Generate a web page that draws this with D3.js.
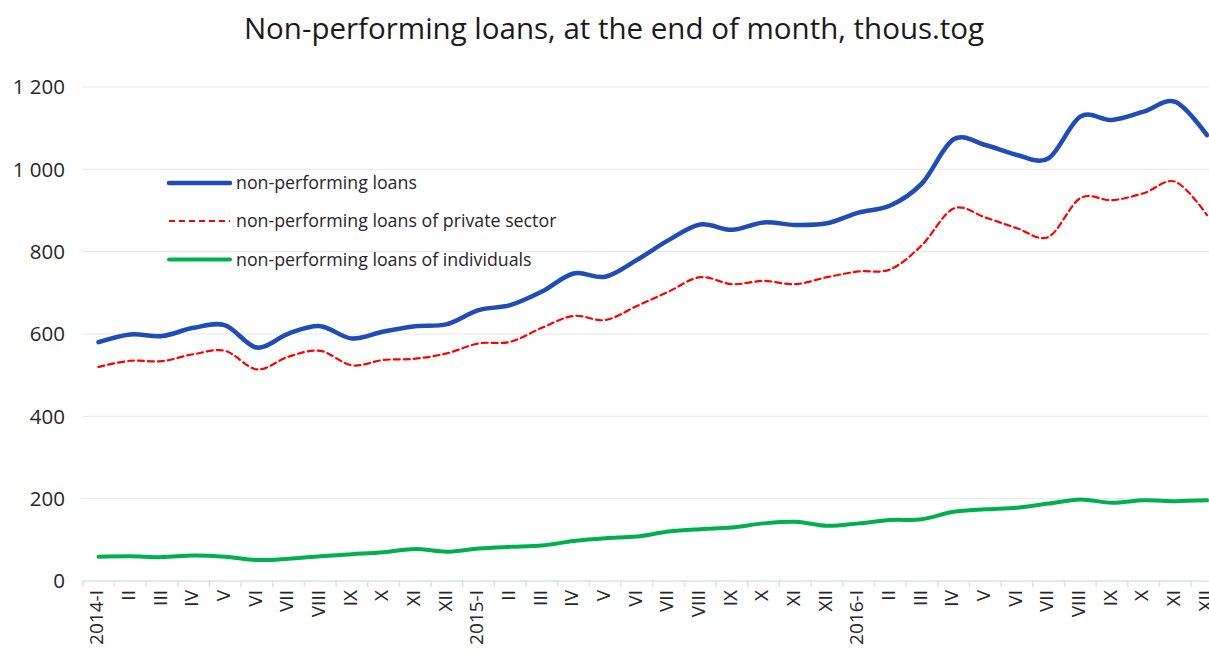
<html>
<head>
    <title>Non-performing loans</title>
    <meta charset="UTF-8" />
    <script src="https://d3js.org/d3.v7.min.js"></script>

    <style>
        body {
            margin: 0;
            background-color: white;
        }

        text {
            font-family: 'Open Sans', 'Noto Sans', sans-serif;
            fill: #262626;
        }
    </style>
</head>

<body>
    <svg id='chart' height='655' width='1209'></svg>

    <script>

        // month labels along the x axis
        const months = ['2014-I', 'II', 'III', 'IV', 'V', 'VI', 'VII', 'VIII', 'IX', 'X', 'XI', 'XII',
                        '2015-I', 'II', 'III', 'IV', 'V', 'VI', 'VII', 'VIII', 'IX', 'X', 'XI', 'XII',
                        '2016-I', 'II', 'III', 'IV', 'V', 'VI', 'VII', 'VIII', 'IX', 'X', 'XI', 'XII'];

        // series values, thous.tog
        const totalLoans = [580, 599, 595, 615, 621, 567, 601, 619, 589, 606, 619, 624,
                            658, 670, 703, 747, 739, 780, 828, 866, 853, 871, 865, 869,
                            895, 912, 966, 1073, 1059, 1035, 1027, 1128, 1120, 1140, 1164, 1083];

        const privateLoans = [520, 535, 534, 551, 559, 514, 545, 559, 524, 537, 540, 553,
                              577, 581, 615, 644, 634, 668, 703, 738, 721, 729, 721, 738,
                              752, 757, 816, 905, 883, 857, 836, 930, 925, 942, 970, 889];

        const individualLoans = [59, 60, 58, 62, 59, 51, 54, 60, 65, 70, 78, 71,
                                 79, 83, 86, 97, 104, 108, 120, 126, 130, 140, 144, 134,
                                 140, 148, 150, 168, 174, 178, 188, 198, 190, 196, 194, 196];

        const yTicks = [0, 200, 400, 600, 800, 1000, 1200];

        const seriesNames = ['non-performing loans',
                             'non-performing loans of private sector',
                             'non-performing loans of individuals'];

        // setting up svg
        const svg = d3.select('svg#chart');
        const width = svg.attr('width');
        const height = svg.attr('height');
        const plotLeft = 82.7;
        const bandWidth = 31.67;

        // scales
        const xScale = d3.scaleBand()
                         .domain(d3.range(months.length))
                         .range([plotLeft, plotLeft + bandWidth * months.length]);
        const yScale = d3.scaleLinear().domain([0, 1200]).range([581, 87]);

        // title
        svg.append('text')
           .attr('x', 614)
           .attr('y', 39)
           .attr('text-anchor', 'middle')
           .style('font-size', '29.5px')
           .style('fill', '#1a1a1a')
           .text('Non-performing loans, at the end of month, thous.tog');

        // gridlines
        yTicks.forEach( (t) => {
            if (t > 0) {
                svg.append('line')
                   .attr('x1', plotLeft)
                   .attr('x2', width)
                   .attr('y1', yScale(t))
                   .attr('y2', yScale(t))
                   .style('stroke', '#e6e6e6')
                   .style('stroke-width', '1px');
            }
            svg.append('text')
               .attr('x', 65)
               .attr('y', yScale(t))
               .attr('dy', '0.35em')
               .attr('text-anchor', 'end')
               .style('font-size', '20.5px')
               .text(d3.format(',')(t).replace(',', ' '));
        });

        // x axis line and tick marks
        svg.append('line')
           .attr('x1', plotLeft)
           .attr('x2', width)
           .attr('y1', yScale(0))
           .attr('y2', yScale(0))
           .style('stroke', '#d6e0f2')
           .style('stroke-width', '1.5px');

        for (let i = 0; i <= months.length; i++) {
            let tx = plotLeft + i * xScale.bandwidth();
            svg.append('line')
               .attr('x1', tx)
               .attr('x2', tx)
               .attr('y1', yScale(0))
               .attr('y2', yScale(0) + 6)
               .style('stroke', '#d6e0f2')
               .style('stroke-width', '1.5px');
        }

        // x labels, rotated
        months.forEach( (m, i) => {
            let cx = xScale(i) + xScale.bandwidth() / 2;
            svg.append('text')
               .attr('transform', `translate(${cx - 2}, 590) rotate(-90)`)
               .attr('dy', '0.35em')
               .attr('text-anchor', 'end')
               .style('font-size', '19px')
               .text(m);
        });

        // lines
        const line = d3.line()
                       .x( (d, i) => xScale(i) + xScale.bandwidth() / 2 )
                       .y( d => yScale(d) )
                       .curve(d3.curveCardinal.tension(0));

        const series = [
            {values: totalLoans, color: '#1f4db5', w: 4.5, dash: null},
            {values: privateLoans, color: '#ff0000', w: 2.2, dash: '6,4'},
            {values: individualLoans, color: '#00b050', w: 4, dash: null}
        ];

        series.forEach( (s) => {
            svg.append('path')
               .datum(s.values)
               .attr('d', line)
               .attr('fill', 'none')
               .attr('stroke', s.color)
               .attr('stroke-width', s.w)
               .attr('stroke-dasharray', s.dash)
               .attr('stroke-linecap', 'round')
               .attr('stroke-linejoin', 'round');
        });

        // legend
        const legendY = [183, 221, 259.5];
        series.forEach( (s, i) => {
            svg.append('line')
               .attr('x1', 169)
               .attr('x2', 230)
               .attr('y1', legendY[i])
               .attr('y2', legendY[i])
               .attr('stroke', s.color)
               .attr('stroke-width', s.w)
               .attr('stroke-dasharray', s.dash)
               .attr('stroke-linecap', s.dash ? 'butt' : 'round');

            svg.append('text')
               .attr('x', 236)
               .attr('y', legendY[i])
               .attr('dy', '0.35em')
               .style('font-size', '17.8px')
               .text(seriesNames[i]);
        });

    </script>
</body>
</html>
